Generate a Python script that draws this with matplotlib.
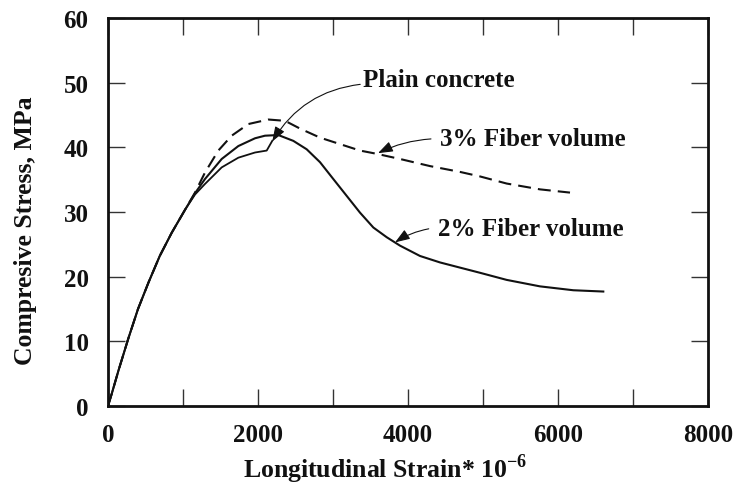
import matplotlib
matplotlib.use("Agg")
import matplotlib.pyplot as plt

# Stress-strain curves (strain in microstrain, stress in MPa)
plain_strain = [0, 50, 140, 270, 400, 540, 690, 850, 1030, 1160, 1290,
                1516, 1738, 1960, 2116, 2190]
plain_stress = [0, 1.9, 5.5, 10.4, 15.0, 19.1, 23.2, 26.8, 30.4, 32.7, 34.3,
                36.9, 38.4, 39.2, 39.5, 41.0]

fiber2_strain = [0, 50, 140, 270, 400, 540, 690, 850, 1030, 1160, 1293,
                 1516, 1738, 1960, 2093, 2271, 2471, 2649, 2827, 3004, 3182,
                 3360, 3538, 3716, 3893, 4160, 4427, 4693, 4960, 5316, 5760,
                 6204, 6604]
fiber2_stress = [0, 1.9, 5.5, 10.4, 15.0, 19.1, 23.2, 26.8, 30.4, 32.9, 35.1,
                 38.2, 40.2, 41.4, 41.8, 41.9, 41.0, 39.7, 37.7, 35.1, 32.5,
                 29.9, 27.6, 26.1, 24.8, 23.2, 22.2, 21.4, 20.6, 19.5, 18.5,
                 17.9, 17.7]

fiber3_strain = [0, 50, 140, 270, 400, 540, 690, 850, 1030, 1160, 1293,
                 1471, 1649, 1871, 2138, 2360, 2560, 2827, 3093, 3360, 3582,
                 3893, 4293, 4693, 4960, 5316, 5760, 6160]
fiber3_stress = [0, 1.9, 5.5, 10.4, 15.0, 19.1, 23.2, 26.8, 30.4, 33.0, 36.1,
                 39.5, 41.8, 43.6, 44.3, 44.1, 42.9, 41.5, 40.5, 39.5, 39.0,
                 38.2, 37.1, 36.2, 35.5, 34.4, 33.5, 33.0]

x_ticks = [0, 1000, 2000, 3000, 4000, 5000, 6000, 7000, 8000]
x_ticklabels = ["0", "", "2000", "", "4000", "", "6000", "", "8000"]
y_ticks = [0, 10, 20, 30, 40, 50, 60]
y_ticklabels = ["0", "10", "20", "30", "40", "50", "60"]

labels = ["Plain concrete", "3% Fiber volume", "2% Fiber volume"]

plt.rcParams["font.family"] = ["Liberation Serif", "DejaVu Serif"]
plt.rcParams["font.weight"] = "bold"
plt.rcParams["mathtext.fontset"] = "custom"
plt.rcParams["mathtext.rm"] = "Liberation Serif:bold"

ink = "#111111"

fig = plt.figure(figsize=(7.36, 4.85), dpi=100)
ax = fig.add_axes([108 / 736, 78 / 485, 600 / 736, 388 / 485])

ax.plot(fiber3_strain, fiber3_stress, color=ink, lw=1.5, dashes=(6.2, 3.4),
        solid_joinstyle="round")
ax.plot(fiber2_strain, fiber2_stress, color=ink, lw=1.5,
        solid_joinstyle="round")
ax.plot(plain_strain, plain_stress, color=ink, lw=1.3,
        solid_joinstyle="round")

ax.set_xlim(0, 8000)
ax.set_ylim(0, 60)

ax.set_xticks(x_ticks)
ax.set_xticklabels(x_ticklabels)
ax.set_yticks(y_ticks)
ax.set_yticklabels(y_ticklabels)

ax.tick_params(axis="both", direction="in", length=12, width=1.0,
               color="#333333", labelsize=18, labelcolor=ink)
ax.tick_params(axis="x", pad=12, top=True)
ax.tick_params(axis="y", pad=14, right=True)
for lab in ax.get_xticklabels() + ax.get_yticklabels():
    lab.set_fontweight("bold")

for sp in ax.spines.values():
    sp.set_linewidth(2.0)
    sp.set_color(ink)

ax.set_xlabel(r"Longitudinal Strain* 10$^{\mathregular{-6}}$", fontsize=18.5,
              fontweight="bold", color=ink, va="center")
ax.xaxis.set_label_coords(0.462, -0.160)
ax.set_ylabel("Compresive Stress, MPa", fontsize=18.5, fontweight="bold",
              color=ink, va="center")
ax.yaxis.set_label_coords(-0.138, 0.454)

arrow = dict(arrowstyle="-|>,head_length=0.5,head_width=0.18", color=ink,
             lw=0.8, shrinkA=0, shrinkB=0)

ax.annotate(labels[0], xy=(2190, 40.9), xytext=(3400, 50.5),
            fontsize=18, fontweight="bold", color=ink, va="center",
            ha="left",
            arrowprops=dict(arrow, connectionstyle="arc3,rad=0.25",
                            relpos=(0, 0.3)))
ax.annotate(labels[1], xy=(3600, 39.1), xytext=(4430, 41.3),
            fontsize=18, fontweight="bold", color=ink, va="center",
            ha="left",
            arrowprops=dict(arrow, connectionstyle="arc3,rad=0.1",
                            relpos=(-0.05, 0.5)))
ax.annotate(labels[2], xy=(3827, 25.3), xytext=(4400, 27.4),
            fontsize=18, fontweight="bold", color=ink, va="center",
            ha="left",
            arrowprops=dict(arrow, connectionstyle="arc3,rad=0.1",
                            relpos=(-0.05, 0.5)))

fig.savefig("out.png", dpi=100)
